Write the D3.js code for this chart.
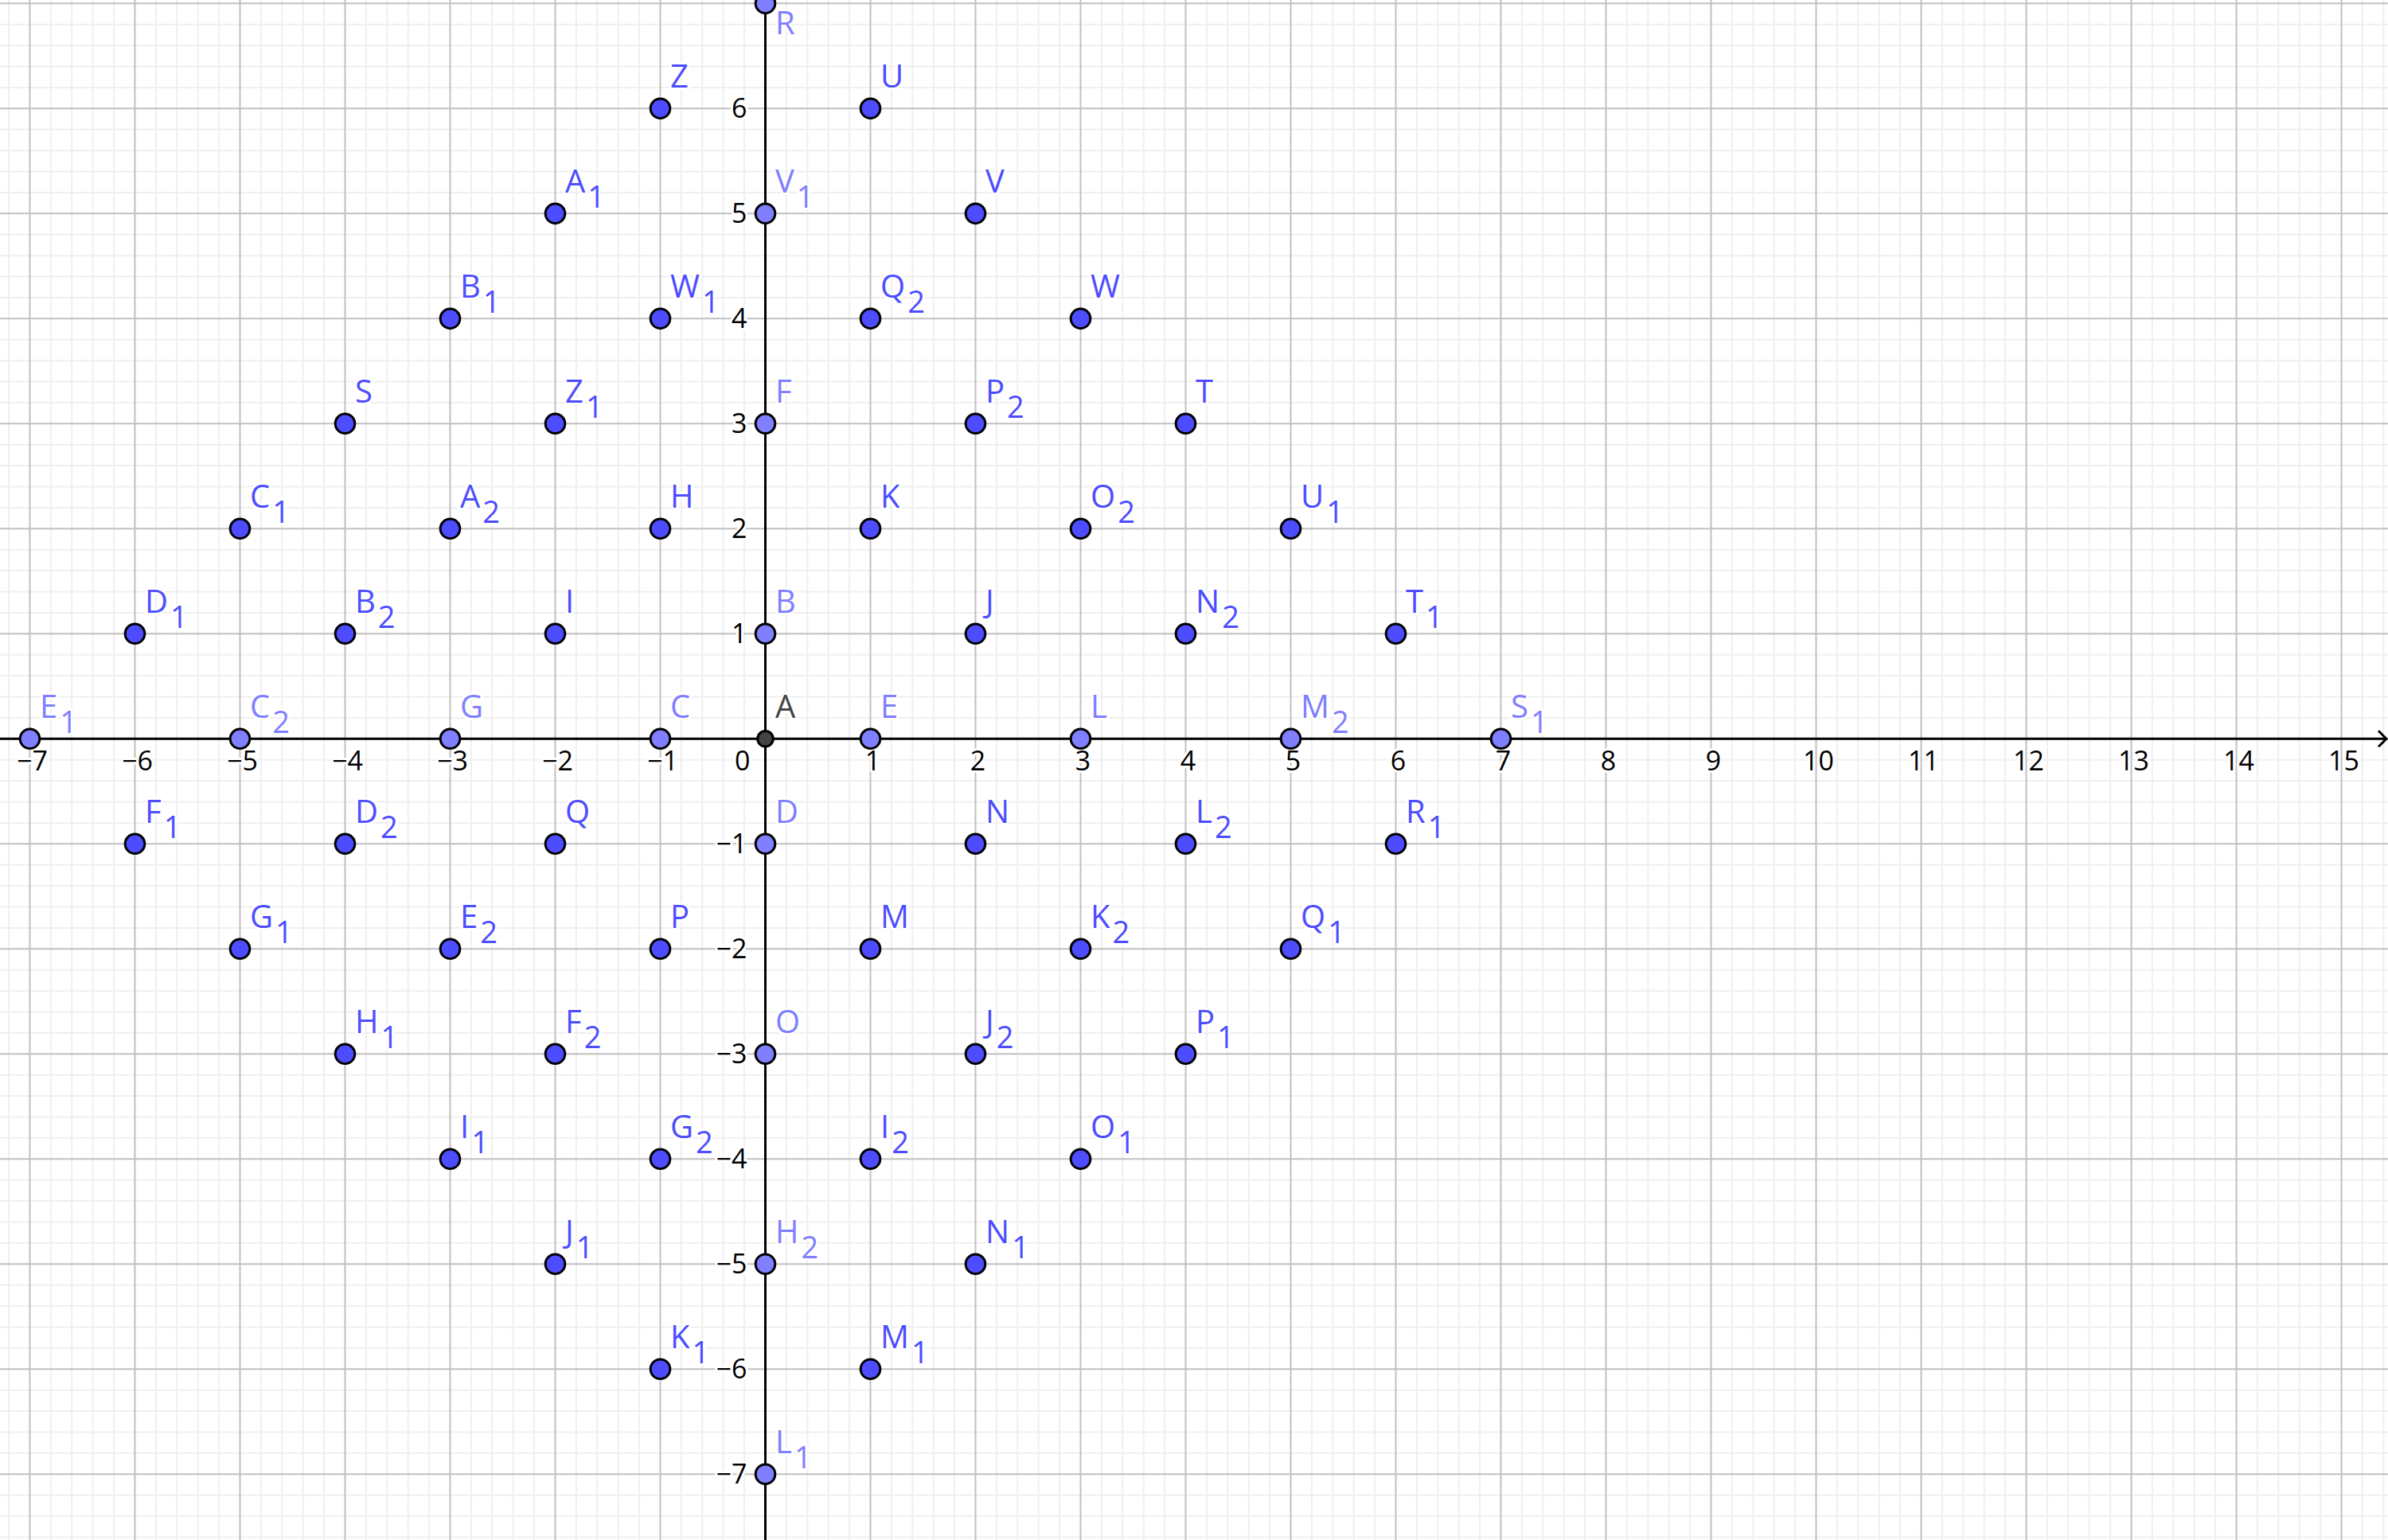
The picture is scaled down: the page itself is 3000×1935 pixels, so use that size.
<!DOCTYPE html>
<html>
<head>
<meta charset="utf-8">
<script src="https://cdn.jsdelivr.net/npm/d3@7"></script>
<style>
  html, body { margin: 0; padding: 0; background: #fff; }
  svg { display: block; }
</style>
</head>
<body>
<svg id="chart" width="3000" height="1935"></svg>
<script>
// ---- data ----
const xDomain = [-7.284, 15.443];
const yDomain = [-7.627, 7.033];
const xTickValues = [-7, -6, -5, -4, -3, -2, -1, 1, 2, 3, 4, 5, 6, 7, 8, 9, 10, 11, 12, 13, 14, 15];
const yTickValues = [-7, -6, -5, -4, -3, -2, -1, 1, 2, 3, 4, 5, 6];

// points lying on the axes (light blue)
const axisPointNames = ["R", "V1", "F", "B", "D", "O", "H2", "L1", "E1", "C2", "G", "C", "E", "L", "M2", "S1"];
const axisPointX =     [0, 0, 0, 0, 0, 0, 0, 0, -7, -5, -3, -1, 1, 3, 5, 7];
const axisPointY =     [7, 5, 3, 1, -1, -3, -5, -7, 0, 0, 0, 0, 0, 0, 0, 0];

// free points (dark blue)
const freePointNames = ["Z", "U", "A1", "V", "B1", "W1", "Q2", "W", "S", "Z1", "P2", "T",
  "C1", "A2", "H", "K", "O2", "U1", "D1", "B2", "I", "J", "N2", "T1",
  "F1", "D2", "Q", "N", "L2", "R1", "G1", "E2", "P", "M", "K2", "Q1",
  "H1", "F2", "J2", "P1", "I1", "G2", "I2", "O1", "J1", "N1", "K1", "M1"];
const freePointX = [-1, 1, -2, 2, -3, -1, 1, 3, -4, -2, 2, 4,
  -5, -3, -1, 1, 3, 5, -6, -4, -2, 2, 4, 6,
  -6, -4, -2, 2, 4, 6, -5, -3, -1, 1, 3, 5,
  -4, -2, 2, 4, -3, -1, 1, 3, -2, 2, -1, 1];
const freePointY = [6, 6, 5, 5, 4, 4, 4, 4, 3, 3, 3, 3,
  2, 2, 2, 2, 2, 2, 1, 1, 1, 1, 1, 1,
  -1, -1, -1, -1, -1, -1, -2, -2, -2, -2, -2, -2,
  -3, -3, -3, -3, -4, -4, -4, -4, -5, -5, -6, -6];

// origin point
const originName = "A";
const originX = 0, originY = 0;

// ---- drawing ----
const W = 3000, H = 1935;
const svg = d3.select("#chart");
const x = d3.scaleLinear().domain(xDomain).range([0, W]);
const y = d3.scaleLinear().domain(yDomain).range([H, 0]);
const FONT = "'Open Sans', 'Noto Sans', sans-serif";

svg.append("rect").attr("width", W).attr("height", H).attr("fill", "#fff");

// grid
const grid = svg.append("g");
const minorX = [], majorX = [], minorY = [], majorY = [];
for (let i = Math.ceil(xDomain[0] * 5); i <= Math.floor(xDomain[1] * 5); i++) (i % 5 === 0 ? majorX : minorX).push(i / 5);
for (let i = Math.ceil(yDomain[0] * 5); i <= Math.floor(yDomain[1] * 5); i++) (i % 5 === 0 ? majorY : minorY).push(i / 5);

grid.selectAll(".mvx").data(minorX).join("line")
  .attr("x1", d => x(d)).attr("x2", d => x(d)).attr("y1", 0).attr("y2", H)
  .attr("stroke", "#efefef").attr("stroke-width", 2);
grid.selectAll(".mhy").data(minorY).join("line")
  .attr("y1", d => y(d)).attr("y2", d => y(d)).attr("x1", 0).attr("x2", W)
  .attr("stroke", "#efefef").attr("stroke-width", 2);
grid.selectAll(".Mvx").data(majorX).join("line")
  .attr("x1", d => x(d)).attr("x2", d => x(d)).attr("y1", 0).attr("y2", H)
  .attr("stroke", "#c0c0c0").attr("stroke-width", 2);
grid.selectAll(".Mhy").data(majorY).join("line")
  .attr("y1", d => y(d)).attr("y2", d => y(d)).attr("x1", 0).attr("x2", W)
  .attr("stroke", "#c0c0c0").attr("stroke-width", 2);

// axes
const x0 = x(0), y0 = y(0);
const axes = svg.append("g").attr("stroke", "#000").attr("stroke-width", 3).attr("fill", "none");
axes.append("line").attr("x1", 0).attr("x2", W - 2).attr("y1", y0).attr("y2", y0);
axes.append("line").attr("x1", x0).attr("x2", x0).attr("y1", 2).attr("y2", H);
axes.append("path").attr("d", `M${W - 12},${y0 - 10}L${W - 2},${y0}L${W - 12},${y0 + 10}`);
axes.append("path").attr("d", `M${x0 - 10},12L${x0},2L${x0 + 10},12`);

// tick labels
const minus = v => (v < 0 ? "\u2212" + Math.abs(v) : String(v));
const tl = svg.append("g").attr("font-family", FONT).attr("font-size", 34).attr("fill", "#000")
  .attr("stroke", "#fff").attr("stroke-width", 6).attr("paint-order", "stroke").attr("stroke-linejoin", "round");
tl.selectAll(".xt").data(xTickValues).join("text")
  .attr("x", d => x(d) + 3).attr("y", y0 + 40).attr("text-anchor", "middle").text(minus);
tl.selectAll(".yt").data(yTickValues).join("text")
  .attr("x", x0 - 23).attr("y", d => y(d) + 12).attr("text-anchor", "end").text(minus);
tl.append("text").attr("x", x0 - 19).attr("y", y0 + 40).attr("text-anchor", "end").text("0");

// points
function drawPoints(names, xs, ys, fill, r) {
  const data = names.map((n, i) => ({ name: n, x: xs[i], y: ys[i] }));
  const g = svg.append("g");
  g.selectAll("circle").data(data).join("circle")
    .attr("cx", d => x(d.x)).attr("cy", d => y(d.y)).attr("r", r)
    .attr("fill", fill).attr("stroke", "#000").attr("stroke-width", 3);
  const t = g.selectAll("text").data(data).join("text")
    .attr("x", d => x(d.x) + 12.5)
    .attr("y", d => { const py = y(d.y); return py - 26 < 30 ? py + 39 : py - 26; })
    .attr("font-family", FONT).attr("font-size", 40).attr("fill", fill)
    .attr("stroke", "#fff").attr("stroke-width", 6).attr("paint-order", "stroke").attr("stroke-linejoin", "round");
  t.each(function (d) {
    const m = d.name.match(/^([A-Z]+)(\d*)$/);
    const el = d3.select(this);
    el.append("tspan").text(m[1]);
    if (m[2]) el.append("tspan").attr("dx", 3).attr("dy", 19).attr("font-size", 38).text(m[2]);
  });
}
drawPoints(axisPointNames, axisPointX, axisPointY, "#7f7fff", 12.3);
drawPoints(freePointNames, freePointX, freePointY, "#4d4dff", 12.3);
drawPoints([originName], [originX], [originY], "#444444", 9.8);
</script>
</body>
</html>
